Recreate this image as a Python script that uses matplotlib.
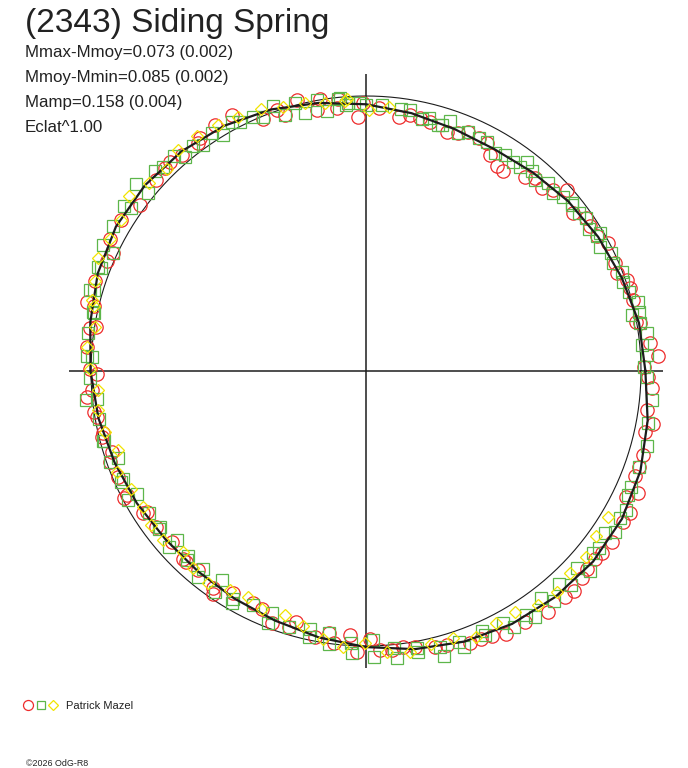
import numpy as np
import matplotlib
matplotlib.use('Agg')
import matplotlib.pyplot as plt
from matplotlib.lines import Line2D

plt.rcParams['font.family'] = ['Liberation Sans', 'DejaVu Sans']

# angles in degrees (counter-clockwise from the right), radius relative to the reference circle
fit_theta = [0, 10, 20, 30, 40, 50, 60, 70, 80, 90, 100, 110, 120, 130, 140, 150, 160, 170,
             180, 190, 200, 210, 220, 230, 240, 250, 260, 270, 280, 290, 300, 310, 320, 330, 340, 350, 360]
fit_r = [1.016, 1.008, 0.990, 0.975, 0.960, 0.943, 0.932, 0.937, 0.952, 0.970, 0.990, 1.012,
         1.030, 1.043, 1.050, 1.050, 1.038, 1.018, 1.002, 0.988, 0.973, 0.962, 0.952, 0.951,
         0.956, 0.966, 0.984, 1.004, 1.027, 1.047, 1.062, 1.072, 1.078, 1.075, 1.062, 1.040, 1.016]

red_theta = [0.9, 2.9, 5.6, 9.9, 10.3, 14.9, 17.5, 19.2, 21.3, 23.4, 27.8, 30.2, 32.8, 34.8, 37.3,
             42.0, 44.0, 46.1, 48.8, 50.6, 55.5, 57.5, 60.1, 62.1, 64.2, 66.9, 68.8, 71.3, 75.6,
             77.9, 80.2, 82.5, 87.1, 90.6, 91.7, 95.8, 96.4, 99.6, 100.7, 104.3, 107.6, 108.9,
             112.2, 117.7, 121.5, 125.5, 126.4, 130.5, 133.1, 134.8, 137.7, 143.7, 148.3, 152.7,
             155.0, 157.0, 161.7, 166.1, 166.6, 170.7, 171.1, 175.0, 179.6, 180.6, 184.0, 185.3,
             188.6, 189.6, 193.2, 194.0, 197.6, 199.5, 203.1, 207.4, 207.6, 212.7, 212.6, 216.6,
             221.3, 225.9, 226.7, 229.9, 234.8, 235.5, 239.1, 244.1, 246.4, 249.5, 253.3, 254.5,
             259.1, 262.0, 263.3, 266.5, 268.2, 270.9, 272.9, 275.3, 277.7, 280.1, 284.1, 286.4,
             290.9, 293.3, 295.4, 298.0, 302.4, 307.1, 311.4, 313.4, 316.1, 318.1, 320.6, 322.4,
             325.2, 329.6, 331.7, 334.2, 335.9, 338.6, 340.6, 343.1, 347.7, 349.5, 352.1, 356.5, 358.8]
red_r = [1.011, 1.064, 1.038, 1.011, 0.998, 1.006, 1.005, 1.004, 0.978, 0.986, 0.996, 0.974, 0.970,
         0.973, 0.947, 0.983, 0.947, 0.922, 0.932, 0.911, 0.882, 0.884, 0.906, 0.937, 0.943, 0.946,
         0.930, 0.916, 0.936, 0.940, 0.944, 0.933, 0.957, 0.973, 0.923, 0.993, 0.961, 1.002, 0.966,
         1.017, 0.976, 1.003, 0.988, 1.051, 1.050, 1.040, 1.028, 1.033, 1.043, 1.038, 1.032, 1.020,
         1.045, 1.047, 1.014, 1.025, 1.037, 1.046, 1.017, 0.995, 1.016, 1.017, 1.004, 0.980, 0.998,
         1.020, 1.002, 0.993, 0.981, 0.990, 0.970, 0.988, 0.979, 0.980, 0.994, 0.947, 0.961, 0.951,
         0.941, 0.954, 0.952, 0.946, 0.967, 0.983, 0.940, 0.939, 0.946, 0.979, 0.971, 0.946, 0.984,
         0.963, 0.997, 0.962, 1.021, 0.976, 1.015, 1.019, 1.012, 1.018, 1.034, 1.040, 1.060, 1.061,
         1.067, 1.083, 1.079, 1.098, 1.094, 1.102, 1.088, 1.079, 1.078, 1.084, 1.088, 1.084, 1.090,
         1.050, 1.083, 1.051, 1.054, 1.054, 1.038, 1.060, 1.030, 1.041, 1.027]

green_theta = [0.9, 3.3, 5.4, 7.6, 10.0, 11.9, 12.2, 14.3, 16.8, 19.2, 21.2, 23.6, 25.8, 28.0, 30.2,
               30.5, 32.4, 34.8, 36.6, 38.9, 39.2, 41.5, 43.6, 45.9, 48.5, 50.4, 52.5, 53.0, 55.0,
               57.2, 59.4, 62.2, 64.2, 66.9, 68.8, 71.4, 72.9, 73.6, 76.0, 77.5, 80.4, 82.3, 86.6,
               90.0, 91.3, 93.8, 94.2, 95.4, 95.8, 98.6, 100.3, 103.3, 104.9, 107.6, 109.3, 112.0,
               113.9, 116.8, 118.3, 121.3, 123.0, 125.7, 127.5, 130.2, 131.9, 134.8, 136.5, 140.8,
               141.0, 145.3, 145.6, 150.2, 154.4, 155.0, 158.7, 158.8, 163.6, 163.5, 167.8, 167.9,
               172.3, 176.9, 177.0, 181.5, 185.9, 186.0, 190.2, 194.8, 195.0, 199.4, 199.5, 203.9,
               204.3, 208.3, 208.4, 213.1, 217.2, 217.4, 221.8, 221.9, 226.2, 226.5, 230.6, 230.8,
               235.4, 235.7, 239.7, 239.9, 244.3, 248.7, 248.8, 253.3, 257.8, 258.0, 262.0, 262.3,
               266.8, 267.1, 271.4, 271.6, 275.8, 276.1, 280.4, 280.5, 285.0, 285.3, 289.0, 289.6,
               294.1, 294.3, 298.6, 300.1, 303.2, 304.5, 307.6, 309.3, 312.2, 313.8, 316.9, 318.3,
               321.4, 322.8, 325.8, 327.2, 330.0, 331.8, 334.7, 336.4, 340.6, 345.1, 349.5, 354.2,
               358.8]
green_r = [1.011, 1.022, 1.007, 1.032, 1.012, 0.987, 1.017, 1.022, 1.000, 0.988, 0.997, 0.980, 0.988,
           0.963, 0.974, 0.987, 0.962, 0.973, 0.966, 0.961, 0.967, 0.957, 0.937, 0.953, 0.928, 0.945,
           0.960, 0.930, 0.930, 0.934, 0.922, 0.942, 0.943, 0.946, 0.930, 0.960, 0.936, 0.932, 0.947,
           0.937, 0.962, 0.963, 0.969, 0.969, 0.974, 0.976, 0.970, 0.996, 0.993, 0.957, 1.002, 0.965,
           1.007, 0.976, 1.021, 0.997, 1.012, 1.016, 1.028, 1.004, 1.030, 1.013, 1.031, 1.020, 1.048,
           1.047, 1.057, 1.022, 1.078, 1.040, 1.065, 1.059, 1.060, 1.014, 1.045, 1.033, 1.046, 1.031,
           1.015, 1.010, 1.019, 1.017, 0.999, 1.004, 1.025, 0.982, 0.988, 0.990, 0.985, 0.955, 0.988,
           0.965, 0.979, 0.945, 0.985, 0.944, 0.940, 0.948, 0.923, 0.961, 0.933, 0.946, 0.933, 0.965,
           0.924, 0.975, 0.960, 0.974, 0.945, 0.943, 0.982, 0.971, 0.961, 0.990, 0.963, 1.002, 0.990,
           1.028, 0.978, 1.039, 1.011, 1.051, 1.025, 1.040, 1.038, 1.074, 1.041, 1.064, 1.035, 1.053,
           1.043, 1.074, 1.062, 1.084, 1.041, 1.081, 1.047, 1.078, 1.050, 1.091, 1.058, 1.063, 1.051,
           1.078, 1.066, 1.073, 1.055, 1.052, 1.054, 1.059, 1.044, 1.046, 1.021]

yellow_theta = [85.0, 89.3, 93.9, 94.5, 98.7, 102.8, 107.4, 111.9, 116.7, 121.0, 125.6, 130.3, 134.7,
                139.0, 143.5, 148.3, 152.7, 157.2, 161.7, 165.5, 166.6, 170.7, 175.0, 179.6, 184.0,
                188.3, 193.1, 197.7, 202.0, 206.7, 211.4, 215.6, 219.8, 224.6, 228.8, 233.4, 238.2,
                242.5, 246.5, 251.6, 256.2, 261.0, 265.3, 269.8, 274.2, 278.9, 283.3, 288.1, 292.4,
                297.3, 301.7, 306.3, 310.8, 315.2, 319.8, 324.3, 329.0]
yellow_r = [0.965, 0.949, 0.991, 0.985, 0.985, 0.998, 1.007, 1.026, 1.035, 1.043, 1.053, 1.056, 1.031,
            1.044, 1.071, 1.045, 1.047, 1.056, 1.037, 1.030, 1.017, 0.999, 1.020, 1.004, 0.976, 0.984,
            0.974, 0.945, 0.976, 0.958, 0.951, 0.963, 0.960, 0.936, 0.953, 0.962, 0.937, 0.927, 0.945,
            0.935, 0.953, 0.988, 1.006, 0.988, 1.023, 1.033, 1.021, 1.023, 1.048, 1.032, 1.031, 1.055,
            1.062, 1.045, 1.046, 1.028, 1.028]

title = '(2343) Siding Spring'
info_lines = ['Mmax-Mmoy=0.073 (0.002)', 'Mmoy-Mmin=0.085 (0.002)', 'Mamp=0.158 (0.004)', 'Eclat^1.00']
observer = 'Patrick Mazel'
credit = '\u00a92026 OdG-R8'

RED = '#EE2C2C'
GREEN = '#5DB64A'
YELLOW = '#F2E400'
INK = '#1C1C1C'

W, H = 688, 768
fig = plt.figure(figsize=(W / 100, H / 100), dpi=100)
# polar area: centre at (366, 371) px, 300 px radius
ax = fig.add_axes([(366 - 300) / W, (H - 371 - 300) / H, 600 / W, 600 / H], projection='polar')
ax.set_ylim(0, 300 / 275)
ax.grid(False)
ax.set_xticks([])
ax.set_yticks([])
ax.spines['polar'].set_visible(False)
ax.patch.set_alpha(0)

for a in [0, np.pi / 2, np.pi, 3 * np.pi / 2]:
    ax.plot([a, a], [0, 1.08], color=INK, lw=1.1, solid_capstyle='butt')

circ = np.linspace(0, 2 * np.pi, 400)
ax.plot(circ, np.ones_like(circ), color=INK, lw=0.8)

ax.plot(np.deg2rad(red_theta), red_r, ls='none', marker='o', ms=9.6, mfc='none',
        mec=RED, mew=0.9, clip_on=False)
ax.plot(np.deg2rad(green_theta), green_r, ls='none', marker='s', ms=8.0, mfc='none',
        mec=GREEN, mew=0.9, clip_on=False)
ax.plot(np.deg2rad(fit_theta), fit_r, color=INK, lw=1.6)
ax.plot(np.deg2rad(yellow_theta), yellow_r, ls='none', marker='D', ms=6.2, mfc='none',
        mec=YELLOW, mew=0.9, clip_on=False)

# header texts
fig.text(25 / W, 1 - 32 / H, title, fontsize=24, color='#222222', va='baseline')
for i, s in enumerate(info_lines):
    fig.text(25 / W, 1 - (57 + 25 * i) / H, s, fontsize=12.2, color='#222222', va='baseline')

# observer legend
for x, m, ms, c in [(28, 'o', 7.2, RED), (41, 's', 5.4, GREEN), (53, 'D', 5.0, YELLOW)]:
    fig.add_artist(Line2D([x / W], [1 - 705 / H], transform=fig.transFigure, ls='none',
                          marker=m, ms=ms, mfc='none', mec=c, mew=0.9))
fig.text(66 / W, 1 - 709 / H, observer, fontsize=8, color='#222222', va='baseline')
fig.text(26 / W, 1 - 766 / H, credit, fontsize=6.4, color='#222222', va='baseline')

fig.savefig('out.png', dpi=100, facecolor='white')
